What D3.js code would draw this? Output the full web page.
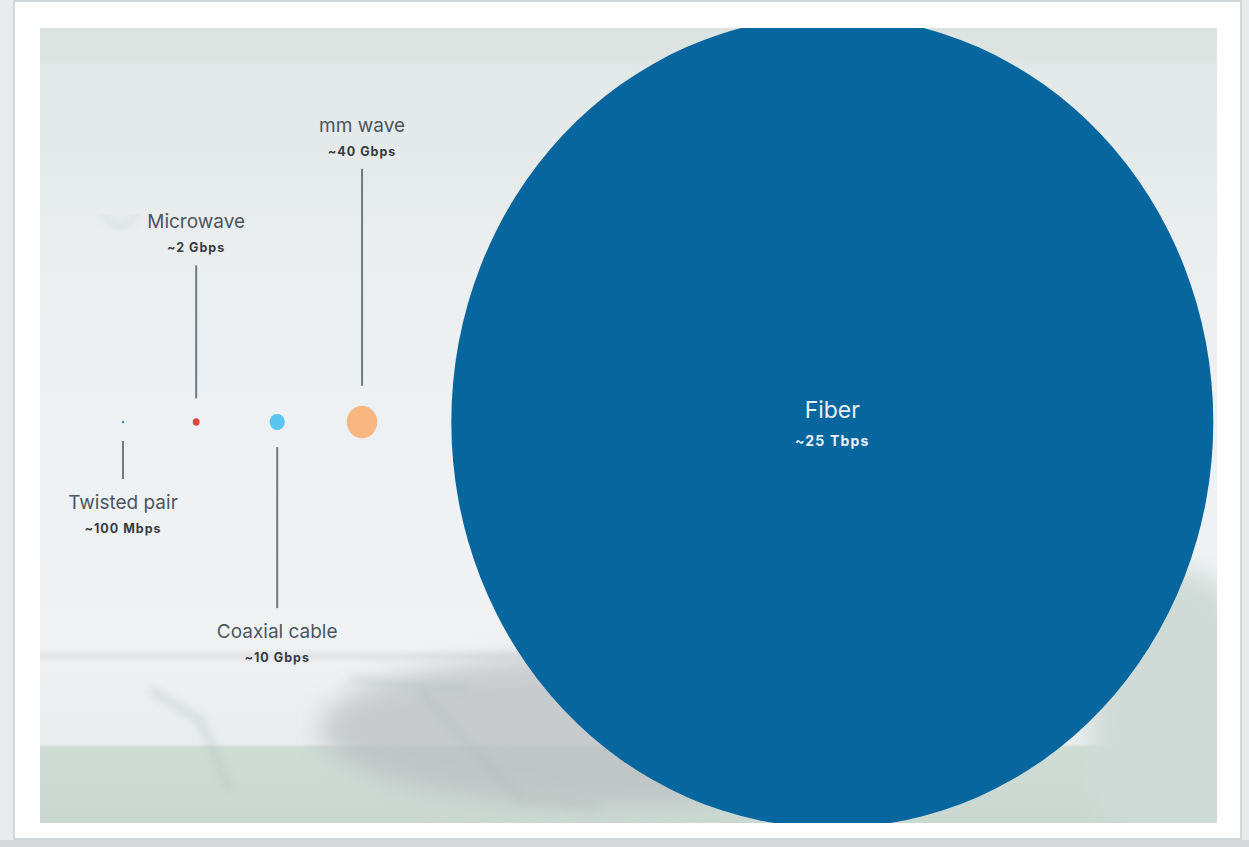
<!DOCTYPE html>
<html>
<head>
<meta charset="utf-8">
<script src="https://cdn.jsdelivr.net/npm/d3@7"></script>
<style>
  html, body { margin: 0; padding: 0; background: #e9edee; }
  svg { display: block; }
</style>
</head>
<body>
<div id="chart"></div>
<script>
// donnees : debit max par support (en Gbps)
const media = ["Twisted pair", "Microwave", "Coaxial cable", "mm wave", "Fiber"];
const speedGbps = [0.1, 2, 10, 40, 25000];
const speedLabels = ["~100 Mbps", "~2 Gbps", "~10 Gbps", "~40 Gbps", "~25 Tbps"];
const colors = ["#1a9a9a", "#e0453a", "#5ac4f2", "#f8b780", "#08669f"];

// mise en page des etiquettes (pas des donnees)
const labelSide = ["below", "above", "below", "above", "inside"];
const stemLength = [38, 133, 161, 217, 0];
const gaps = [0, 69, 70, 62, 74]; // espace entre bords de bulles

const W = 1249, H = 847;
const frame = {x: 40, y: 28, w: 1177, h: 795};
const cy = 422, stretchY = 1.065, startX = 123;

const svg = d3.select("#chart").append("svg")
  .attr("width", W)
  .attr("height", H);

const defs = svg.append("defs");
defs.append("filter").attr("id", "blur").attr("x", "-50%").attr("y", "-50%").attr("width", "200%").attr("height", "200%")
  .append("feGaussianBlur").attr("stdDeviation", 12);
defs.append("filter").attr("id", "blurS")
  .append("feGaussianBlur").attr("stdDeviation", 4);
defs.append("clipPath").attr("id", "clip")
  .append("rect").attr("x", frame.x).attr("y", frame.y).attr("width", frame.w).attr("height", frame.h);

const bgGrad = defs.append("linearGradient").attr("id", "bgGrad")
  .attr("x1", 0).attr("y1", 0).attr("x2", 0).attr("y2", 1);
[[0, "#dbe3e0"], [0.04, "#dde4e2"], [0.05, "#e3e8e8"], [0.18, "#e5eaea"], [0.24, "#e9eded"],
 [0.42, "#edf0f2"], [0.78, "#f0f2f4"], [0.79, "#e1e3e5"], [0.8, "#eef0f2"], [0.9, "#e9edee"],
 [0.905, "#cfdcd6"], [1, "#cbd8d2"]]
  .forEach(([o, c]) => bgGrad.append("stop").attr("offset", o).attr("stop-color", c));

// fond exterieur
svg.append("rect").attr("width", W).attr("height", H).attr("fill", "#e8eced");
svg.append("rect").attr("x", 0).attr("y", 840).attr("width", W).attr("height", 7).attr("fill", "#d6dadb");
// cadre blanc
svg.append("rect").attr("x", 14).attr("y", 1).attr("width", 1227).attr("height", 838)
  .attr("fill", "#ffffff").attr("stroke", "#c9cdcf").attr("stroke-width", 1.5);

// image de fond (approximation floue)
const bg = svg.append("g").attr("clip-path", "url(#clip)");
bg.append("rect").attr("x", frame.x).attr("y", frame.y).attr("width", frame.w).attr("height", frame.h)
  .attr("fill", "url(#bgGrad)");
bg.append("ellipse").attr("cx", 600).attr("cy", 730).attr("rx", 280).attr("ry", 75)
  .attr("fill", "#b9bdbf").attr("opacity", 0.7).attr("filter", "url(#blur)");
bg.append("ellipse").attr("cx", 1180).attr("cy", 720).attr("rx", 90).attr("ry", 150)
  .attr("fill", "#d0dbd7").attr("filter", "url(#blur)");
bg.append("path").attr("d", "M150,690 L200,720 L230,790 M350,680 L470,690 M420,690 L520,800 L600,805")
  .attr("fill", "none").attr("stroke", "#b3bdb9").attr("stroke-width", 8).attr("opacity", 0.35)
  .attr("filter", "url(#blurS)");
bg.append("path").attr("d", "M102,216 L120,228 L138,216")
  .attr("fill", "none").attr("stroke", "#cfd5d5").attr("stroke-width", 3).attr("filter", "url(#blurS)");

// echelle : aire proportionnelle au debit
const r = d3.scaleSqrt().domain([0, d3.max(speedGbps)]).range([0, 381]);

const nodes = [];
let prevX = null, prevR = 0;
media.forEach((m, i) => {
  const rad = r(speedGbps[i]);
  const x = prevX === null ? startX : prevX + prevR + gaps[i] + rad;
  nodes.push({name: m, label: speedLabels[i], color: colors[i], r: rad, x: x, side: labelSide[i], stem: stemLength[i]});
  prevX = x; prevR = rad;
});

const bubbles = svg.append("g").attr("clip-path", "url(#clip)")
  .append("g")
  .attr("transform", `translate(0,${cy}) scale(1,${stretchY})`);

bubbles.selectAll("circle")
  .data(nodes)
  .join("circle")
  .attr("cx", d => d.x)
  .attr("cy", 0)
  .attr("r", d => Math.max(d.r, 1.2))
  .attr("fill", d => d.color);

// tiges et etiquettes
const labels = svg.append("g").attr("font-family", "Inter, 'Noto Sans', sans-serif").attr("text-anchor", "middle");

nodes.forEach(d => {
  const ry = d.r * stretchY;
  if (d.side === "above") {
    const y1 = cy - Math.max(ry, 2) - 20, y0 = y1 - d.stem;
    labels.append("line").attr("x1", d.x).attr("x2", d.x).attr("y1", y0).attr("y2", y1)
      .attr("stroke", "#6e7a86").attr("stroke-width", 2);
    labels.append("text").attr("x", d.x).attr("y", y0 - 37).attr("font-size", 19)
      .attr("fill", "#4c5661").text(d.name);
    labels.append("text").attr("x", d.x).attr("y", y0 - 13).attr("font-size", 12.5).attr("font-weight", 700)
      .attr("letter-spacing", 1).attr("fill", "#353c43").text(d.label);
  } else if (d.side === "below") {
    const y0 = cy + Math.max(ry, 2) + 17, y1 = y0 + d.stem;
    labels.append("line").attr("x1", d.x).attr("x2", d.x).attr("y1", y0).attr("y2", y1)
      .attr("stroke", "#6e7a86").attr("stroke-width", 2);
    labels.append("text").attr("x", d.x).attr("y", y1 + 30).attr("font-size", 19)
      .attr("fill", "#4c5661").text(d.name);
    labels.append("text").attr("x", d.x).attr("y", y1 + 54).attr("font-size", 12.5).attr("font-weight", 700)
      .attr("letter-spacing", 1).attr("fill", "#353c43").text(d.label);
  } else {
    labels.append("text").attr("x", d.x).attr("y", cy - 4).attr("font-size", 23)
      .attr("fill", "#e8f0f6").text(d.name);
    labels.append("text").attr("x", d.x).attr("y", cy + 24).attr("font-size", 14).attr("font-weight", 700)
      .attr("letter-spacing", 1.2).attr("fill", "#e8f0f6").text(d.label);
  }
});
</script>
</body>
</html>
